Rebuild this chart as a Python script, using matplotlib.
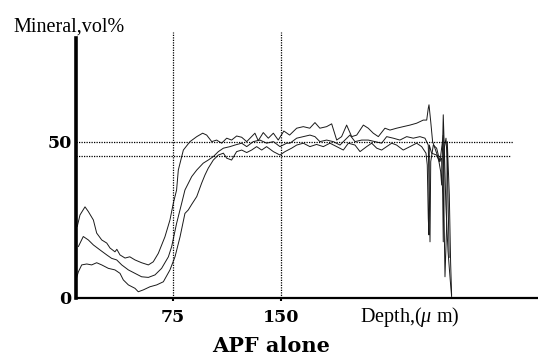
import matplotlib
matplotlib.use("Agg")
import matplotlib.pyplot as plt

plt.rcParams["font.family"] = ["Liberation Serif", "DejaVu Serif"]
plt.rcParams["mathtext.fontset"] = "custom"
plt.rcParams["mathtext.rm"] = "Liberation Serif"
plt.rcParams["mathtext.it"] = "Liberation Serif:italic"

# Кривая 1 (верхняя)
depth_a = [8.5, 10.4, 13.9, 16.2, 19.7, 22.0, 25.5, 29.0, 31.3, 34.7, 36.0, 38.2, 41.7, 45.0,
           48.6, 53.2, 57.9, 61.3, 64.8, 69.4, 72.9, 75.2, 77.5, 78.7, 82.2, 86.8, 91.5, 95.6,
           98.4, 101.9, 105.3, 108.8, 112.3, 115.7, 119.2, 122.7, 126.2, 131.9, 134.2, 137.7,
           141.2, 144.7, 148.1, 152.0, 156.0, 160.9, 165.5, 170.0, 173.6, 177.0, 181.7, 185.2,
           188.7, 192.1, 195.6, 199.1, 202.6, 207.2, 210.6, 214.1, 217.6, 222.2, 225.7, 230.3,
           234.9, 239.6, 244.2, 248.8, 251.2, 252.3, 252.8, 254.0, 255.3, 256.9, 259.3, 260.9,
           261.6, 262.2, 262.7, 263.3, 264.5, 266.0, 267.5, 268.5]
mineral_a = [22.9, 26.6, 29.2, 27.7, 25.0, 20.8, 18.6, 17.6, 16.0, 14.8, 15.6, 13.8, 12.8, 13.2,
             12.2, 11.3, 10.6, 11.6, 14.3, 19.6, 25.0, 30.3, 34.6, 41.0, 47.4, 50.1, 51.7, 52.8,
             52.2, 50.1, 50.6, 49.6, 51.2, 50.6, 51.9, 51.5, 50.1, 52.8, 50.4, 53.0,
             51.2, 52.8, 50.6, 53.5, 52.2, 54.4, 54.9, 54.4, 56.2, 54.4, 54.9, 55.8,
             50.6, 51.7, 55.4, 51.7, 52.2, 55.4, 54.4, 52.8, 51.7, 54.4, 53.8, 54.4,
             54.9, 55.4, 56.0, 57.0, 57.0, 60.8, 61.9, 56.5, 50.1, 48.0, 44.8, 40.5,
             36.2, 48.0, 58.7, 50.0, 30.0, 15.0, 6.0, 0.5]

# Кривая 2 (средняя)
depth_b = [9.3, 12.7, 16.2, 19.7, 24.3, 29.0, 32.4, 35.9, 39.4, 44.0, 48.6, 53.2, 57.9, 62.5,
           67.1, 71.8, 74.1, 77.5, 81.0, 83.3, 88.0, 91.5, 96.0, 99.5, 103.0, 106.5, 110.0,
           114.6, 118.0, 122.7, 126.2, 130.8, 135.4, 140.0, 144.7, 149.3, 154.0, 156.3, 160.9,
           165.5, 170.1, 173.6, 177.0, 181.7, 186.3, 191.0, 194.4, 197.9, 201.4, 206.0, 210.6,
           215.3, 219.9, 223.4, 228.0, 232.6, 237.3, 241.9, 246.5, 250.0, 252.3, 253.0, 253.5,
           254.0, 255.8, 258.1, 260.4, 262.7, 263.2, 263.9, 265.0, 265.5, 266.9, 267.8, 268.5]
mineral_b = [16.5, 19.7, 18.6, 17.0, 15.4, 13.8, 12.7, 12.2, 10.6, 9.0, 7.9, 6.8, 6.6, 7.4,
             9.5, 13.2, 16.5, 23.9, 30.3, 34.6, 38.9, 41.0, 43.2, 44.2, 45.3, 46.9, 48.0,
             48.5, 49.0, 49.6, 48.5, 50.1, 50.6, 49.6, 50.1, 48.5, 49.6, 49.6, 51.2,
             51.7, 52.2, 51.7, 50.1, 50.6, 50.1, 49.0, 50.6, 52.2, 50.1, 50.6, 50.6,
             50.1, 49.6, 51.7, 51.2, 50.6, 51.7, 51.2, 51.7, 51.2, 49.0, 33.0, 18.0,
             43.7, 49.0, 48.0, 43.7, 52.2, 27.7, 6.8, 22.3, 50.1, 33.0, 11.6, 1.0]

# Кривая 3 (нижняя)
depth_c = [7.6, 9.3, 11.6, 15.1, 18.5, 22.0, 25.5, 30.1, 34.7, 38.2, 40.5, 44.0, 48.6, 50.9,
           54.4, 59.0, 63.7, 68.3, 72.9, 76.4, 79.9, 83.3, 85.6, 88.0, 91.5, 94.9, 97.2, 99.5,
           103.0, 106.5, 110.0, 112.3, 115.7, 119.2, 122.7, 126.2, 129.6, 133.1, 136.6, 140.0,
           144.7, 149.3, 152.8, 157.4, 160.9, 165.5, 170.1, 174.7, 179.4, 184.0, 188.7, 193.3,
           196.8, 201.4, 204.9, 209.5, 213.0, 216.5, 219.9, 223.4, 226.9, 230.3, 234.9, 239.6,
           244.2, 247.7, 250.7, 251.6, 252.3, 252.8, 253.0, 254.6, 258.1, 259.9, 261.6, 262.3,
           262.7, 263.4, 264.6, 265.5, 266.2, 266.8]
mineral_c = [5.8, 8.4, 10.6, 10.9, 10.6, 11.3, 10.6, 9.5, 9.0, 7.9, 5.8, 4.2, 3.1, 2.0,
             2.6, 3.6, 4.2, 5.2, 9.0, 13.2, 19.6, 27.1, 28.2, 30.0, 32.5, 36.8, 39.4, 41.6,
             44.2, 45.8, 46.4, 44.8, 44.2, 46.9, 47.4, 46.6, 47.4, 48.5, 47.4, 48.5,
             46.9, 45.8, 46.9, 48.0, 49.0, 49.6, 48.5, 49.2, 48.5, 49.6, 48.5, 47.4,
             49.6, 49.0, 46.9, 48.5, 49.6, 48.0, 47.4, 48.5, 49.6, 49.0, 47.4, 48.5,
             49.6, 48.5, 46.4, 42.6, 25.5, 20.2, 49.0, 46.4, 45.8, 43.7, 44.8, 33.0,
             18.0, 48.0, 51.2, 43.7, 27.7, 13.0]

ref_x = [75, 150]
ref_y = [50, 45.5]
ref_y_end = [311, 309.7]

fig = plt.figure(figsize=(5.38, 3.6), dpi=100)
ax = fig.add_axes([76 / 538, 62 / 360, 462 / 538, 260 / 360])

for d, m in [(depth_a, mineral_a), (depth_b, mineral_b), (depth_c, mineral_c)]:
    ax.plot(d, m, color="#1a1a1a", linewidth=0.7)

dot = (0, (1, 1))
for xv in ref_x:
    ax.plot([xv, xv], [0, 85.3], color="black", linestyle=dot, linewidth=0.9, clip_on=False)
for yv, xe in zip(ref_y, ref_y_end):
    ax.plot([7.64, xe], [yv, yv], color="black", linestyle=dot, linewidth=0.9)

ax.set_xlim(7.64, 328.5)
ax.set_ylim(0, 83.3)

for s in ["top", "right"]:
    ax.spines[s].set_visible(False)
ax.spines["left"].set_linewidth(2.6)
ax.spines["bottom"].set_linewidth(1.6)

bold = dict(family="DejaVu Serif", fontweight="bold", fontsize=12.5)
ax.set_xticks(ref_x)
ax.set_xticklabels(["75", "150"], **bold)
ax.set_yticks([0, 50])
ax.set_yticklabels(["0", "50"], **bold)
ax.tick_params(axis="x", length=2, width=1.5, pad=6)
ax.tick_params(axis="y", length=0, pad=3)

fig.text(13 / 538, 1 - 32 / 360, "Mineral,vol%", fontsize=14.5, va="baseline", ha="left")
fig.text(360 / 538, 1 - 322 / 360, "Depth,($\\mu$ m)", fontsize=14.5, va="baseline", ha="left")
fig.text(271 / 538, 1 - 352 / 360, "APF alone", family="DejaVu Serif", fontsize=15,
         fontweight="bold", va="baseline", ha="center")

fig.savefig("out.png", dpi=100)
